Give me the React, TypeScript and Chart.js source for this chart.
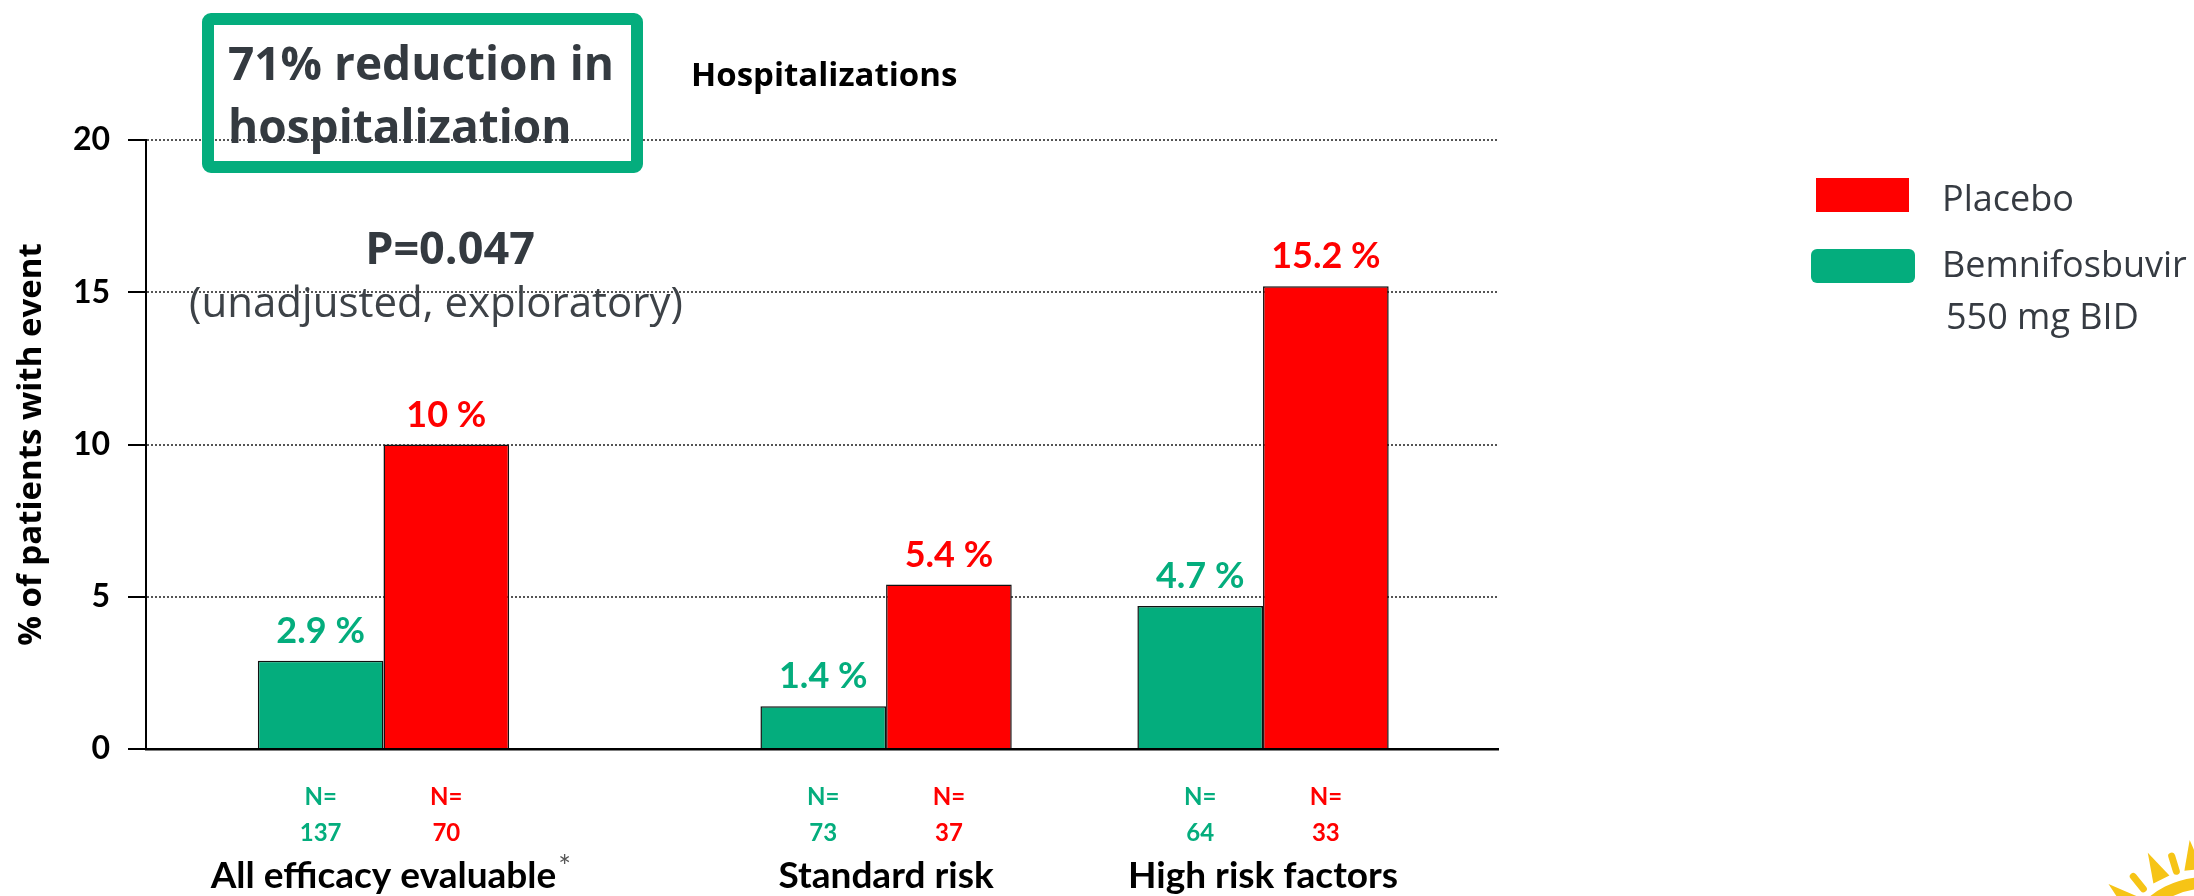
import React, { useEffect, useRef } from 'react';
import { Chart, registerables } from 'chart.js';

Chart.register(...registerables);

// ---------- data ----------
const categories = ['All efficacy evaluable', 'Standard risk', 'High risk factors'];
const categoryNotes = ['*', '', ''];
const seriesNames = ['Bemnifosbuvir 550 mg BID', 'Placebo'];
const bemnifosbuvir = [2.9, 1.4, 4.7];
const placebo = [10, 5.4, 15.2];
const nBemnifosbuvir = [137, 73, 64];
const nPlacebo = [70, 37, 33];
const yTicks = [0, 5, 10, 15, 20];

// layout: slot of each category along the x axis (measured in bar widths)
const groupSlots = [2, 6, 9];
const X_MIN = 0.11;
const X_MAX = 10.87;

const GREEN = '#04AD7D';
const RED = '#FF0000';
const DARK = '#343A40';
const CAL = 'Lato, "Open Sans", sans-serif';
const SEG = '"Open Sans", "Noto Sans", sans-serif';

const overlayPlugin = {
  id: 'overlay',
  afterDraw(chart: any) {
    const { ctx, chartArea } = chart;
    const xScale = chart.scales.x;
    const seriesValues = [bemnifosbuvir, placebo];
    const seriesN = [nBemnifosbuvir, nPlacebo];
    const seriesColors = [GREEN, RED];
    ctx.save();
    ctx.textBaseline = 'alphabetic';
    ctx.textAlign = 'center';

    // value labels + N labels
    seriesValues.forEach((vals, di) => {
      const meta = chart.getDatasetMeta(di);
      meta.data.forEach((el: any, i: number) => {
        ctx.fillStyle = seriesColors[di];
        ctx.font = `bold 36px ${CAL}`;
        ctx.fillText(`${vals[i]} %`, el.x, el.y - 18);
        ctx.font = `bold 24px ${CAL}`;
        ctx.fillText('N=', el.x, chartArea.bottom + 56);
        ctx.fillText(String(seriesN[di][i]), el.x, chartArea.bottom + 92);
      });
    });

    // category labels
    categories.forEach((c, i) => {
      const cx = xScale.getPixelForValue(groupSlots[i]);
      ctx.fillStyle = '#000';
      ctx.font = `bold 37px ${CAL}`;
      ctx.textAlign = 'center';
      ctx.fillText(c, cx, chartArea.bottom + 139);
      if (categoryNotes[i]) {
        const w = ctx.measureText(c).width;
        ctx.font = `30px ${CAL}`;
        ctx.fillStyle = '#555';
        ctx.textAlign = 'left';
        ctx.fillText(categoryNotes[i], cx + w / 2 + 2, chartArea.bottom + 128);
      }
    });

    // highlight box
    ctx.strokeStyle = GREEN;
    ctx.lineWidth = 12;
    ctx.beginPath();
    (ctx as any).roundRect(208, 19, 429, 148, 3);
    ctx.stroke();
    ctx.fillStyle = DARK;
    ctx.textAlign = 'left';
    ctx.font = `bold 46px ${SEG}`;
    ctx.fillText('71% reduction in', 228, 80);
    ctx.fillText('hospitalization', 228, 143);

    // panel title
    ctx.fillStyle = '#000';
    ctx.font = `bold 33px ${SEG}`;
    ctx.fillText('Hospitalizations', 691, 86);

    // p-value
    ctx.textAlign = 'center';
    ctx.fillStyle = DARK;
    ctx.font = `bold 45px ${SEG}`;
    ctx.fillText('P=0.047', 450, 264);
    ctx.fillStyle = '#3D4247';
    ctx.font = `42px ${SEG}`;
    ctx.fillText('(unadjusted, exploratory)', 436, 317);

    // legend
    ctx.fillStyle = RED;
    ctx.fillRect(1816, 178, 93, 34);
    ctx.fillStyle = GREEN;
    ctx.beginPath();
    (ctx as any).roundRect(1811, 249, 104, 34, 6);
    ctx.fill();
    ctx.fillStyle = '#363B42';
    ctx.textAlign = 'left';
    ctx.font = `36px ${SEG}`;
    ctx.fillText(seriesNames[1], 1942, 211);
    ctx.fillText('Bemnifosbuvir', 1942, 277);
    ctx.fillText('550 mg BID', 1946, 329);

    // corner logo (decorative sun)
    const cx = 2205, cy = 965;
    ctx.strokeStyle = '#F6C416';
    ctx.fillStyle = '#F6C416';
    ctx.lineWidth = 12;
    ctx.beginPath();
    ctx.arc(cx, cy, 82, Math.PI * 1.1, Math.PI * 1.6);
    ctx.stroke();
    const rays = [
      { a: 220, tri: true }, { a: 231, tri: false }, { a: 243, tri: true },
      { a: 253, tri: false }, { a: 263, tri: true },
    ];
    rays.forEach((r) => {
      const ang = (r.a * Math.PI) / 180;
      const ux = Math.cos(ang), uy = Math.sin(ang);
      const px = -uy, py = ux;
      if (r.tri) {
        ctx.beginPath();
        ctx.moveTo(cx + ux * 96 + px * 9, cy + uy * 96 + py * 9);
        ctx.lineTo(cx + ux * 96 - px * 9, cy + uy * 96 - py * 9);
        ctx.lineTo(cx + ux * 126, cy + uy * 126);
        ctx.closePath();
        ctx.fill();
      } else {
        ctx.lineWidth = 7;
        ctx.lineCap = 'round';
        ctx.beginPath();
        ctx.moveTo(cx + ux * 98, cy + uy * 98);
        ctx.lineTo(cx + ux * 114, cy + uy * 114);
        ctx.stroke();
      }
    });
    ctx.restore();
  },
};

export default function App() {
  const ref = useRef<HTMLCanvasElement>(null);

  useEffect(() => {
    document.body.style.margin = '0';
    document.body.style.overflow = 'hidden';
    const canvas = ref.current;
    if (!canvas) return;
    const chart = new Chart(canvas, {
      type: 'bar',
      data: {
        datasets: [
          {
            label: seriesNames[0],
            data: bemnifosbuvir.map((v, i) => ({ x: groupSlots[i], y: v })),
            backgroundColor: GREEN,
            borderColor: '#111',
            borderWidth: 1.5,
            categoryPercentage: 2 / 3,
            barPercentage: 1,
          },
          {
            label: seriesNames[1],
            data: placebo.map((v, i) => ({ x: groupSlots[i], y: v })),
            backgroundColor: RED,
            borderColor: '#111',
            borderWidth: 1.5,
            categoryPercentage: 2 / 3,
            barPercentage: 1,
          },
        ] as any,
      },
      options: {
        responsive: false,
        animation: false,
        devicePixelRatio: 1,
        layout: { padding: { left: 0, top: 140, right: 696, bottom: 147 } },
        plugins: { legend: { display: false }, tooltip: { enabled: false } },
        scales: {
          x: {
            type: 'linear',
            min: X_MIN,
            max: X_MAX,
            offset: false,
            grid: { display: false, drawTicks: false, tickLength: 0 },
            ticks: { display: false, padding: 0 },
            border: { display: true, color: '#000', width: 2.5 },
            afterBuildTicks: (s: any) => {
              s.ticks = groupSlots.map((v) => ({ value: v }));
            },
            afterFit: (s: any) => {
              s.height = 0;
            },
          },
          y: {
            min: 0,
            max: 20,
            afterBuildTicks: (s: any) => {
              s.ticks = yTicks.map((v) => ({ value: v }));
            },
            afterFit: (s: any) => {
              s.width = 146;
            },
            ticks: {
              font: { family: CAL, weight: 'bold', size: 32 },
              color: '#000',
              padding: 18,
            },
            grid: {
              color: (c: any) => (c.tick && c.tick.value === 0 ? 'rgba(0,0,0,0)' : '#555'),
              lineWidth: 2,
              tickLength: 18,
              tickColor: '#000',
              tickWidth: 2,
            },
            border: { display: true, color: '#000', width: 2, dash: [2, 2] },
            title: {
              display: true,
              text: '% of patients with event',
              font: { family: SEG, weight: 'bold', size: 33 },
              color: '#000',
              padding: { top: 12, bottom: 0 },
            },
          },
        } as any,
      },
      plugins: [overlayPlugin],
    });
    return () => chart.destroy();
  }, []);

  return (
    <canvas
      ref={ref}
      width={2194}
      height={896}
      style={{ display: 'block', width: 2194, height: 896 }}
    />
  );
}
